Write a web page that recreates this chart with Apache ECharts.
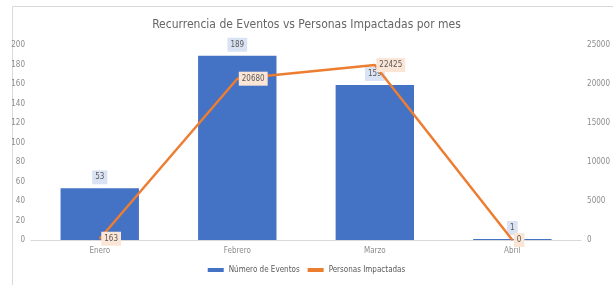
<!DOCTYPE html>
<html>
<head>
<meta charset="utf-8">
<script src="https://cdn.jsdelivr.net/npm/echarts@6/dist/echarts.min.js"></script>
<style>
  html, body { margin: 0; padding: 0; background: #fff; }
  #main { width: 613px; height: 285px; }
</style>
</head>
<body>
<div id="main"></div>
<script>
var meses = ['Enero', 'Febrero', 'Marzo', 'Abril'];
var numeroEventos = [53, 189, 159, 1];
var personasImpactadas = [163, 20680, 22425, 0];

var fuente = '"Liberation Sans Narrow", "DejaVu Sans Condensed", sans-serif';
var gris = '#8c8c8c';

var myChart = echarts.init(document.getElementById('main'));
var option = {
    backgroundColor: '#fff',
    animation: false,
    graphic: [{
        type: 'polyline',
        shape: { points: [[12.5, 285], [12.5, 6.5], [613, 6.5]] },
        style: { stroke: '#d9d9d9', lineWidth: 1, fill: null }
    }],
    title: {
        text: 'Recurrencia de Eventos vs Personas Impactadas por mes',
        left: 'center',
        top: 14,
        textStyle: { color: '#666666', fontSize: 12, fontWeight: 'normal', fontFamily: fuente }
    },
    legend: {
        bottom: 6,
        left: 'center',
        itemWidth: 16,
        itemHeight: 4,
        itemGap: 8,
        textStyle: { color: '#595959', fontSize: 8, fontFamily: fuente },
        data: [
            { name: 'Número de Eventos', icon: 'rect' },
            { name: 'Personas Impactadas', icon: 'rect' }
        ]
    },
    grid: { left: 31, right: 26, top: 45, bottom: 45 },
    xAxis: {
        type: 'category',
        data: meses,
        axisLine: { lineStyle: { color: '#d9d9d9', width: 1 } },
        axisTick: { show: false },
        axisLabel: { color: gris, fontSize: 8, fontFamily: fuente, margin: 7 }
    },
    yAxis: [{
        type: 'value',
        min: 0,
        max: 200,
        interval: 20,
        splitLine: { show: false },
        axisLine: { show: false },
        axisTick: { show: false },
        axisLabel: { color: gris, fontSize: 8, fontFamily: fuente, margin: 6 }
    }, {
        type: 'value',
        min: 0,
        max: 25000,
        interval: 5000,
        splitLine: { show: false },
        axisLine: { show: false },
        axisTick: { show: false },
        axisLabel: {
            color: gris, fontSize: 8, fontFamily: fuente, margin: 6,
            formatter: function (v) { return String(v); }
        }
    }],
    series: [{
        name: 'Número de Eventos',
        type: 'bar',
        data: numeroEventos,
        barCategoryGap: '43%',
        itemStyle: { color: '#4472C4' },
        label: {
            show: true,
            position: 'top',
            distance: 4,
            color: '#595959',
            fontSize: 8,
            fontFamily: fuente,
            backgroundColor: '#dae3f3',
            padding: [3, 3]
        }
    }, {
        name: 'Personas Impactadas',
        type: 'line',
        yAxisIndex: 1,
        data: personasImpactadas,
        symbol: 'circle',
        symbolSize: 1,
        showSymbol: true,
        itemStyle: { color: '#ED7D31' },
        lineStyle: { color: '#ED7D31', width: 2.5 },
        label: {
            show: true,
            position: 'right',
            distance: 1,
            color: '#595959',
            fontSize: 8,
            fontFamily: fuente,
            backgroundColor: '#fbe5d6',
            padding: [3, 3]
        }
    }]
};
myChart.setOption(option);
</script>
</body>
</html>
